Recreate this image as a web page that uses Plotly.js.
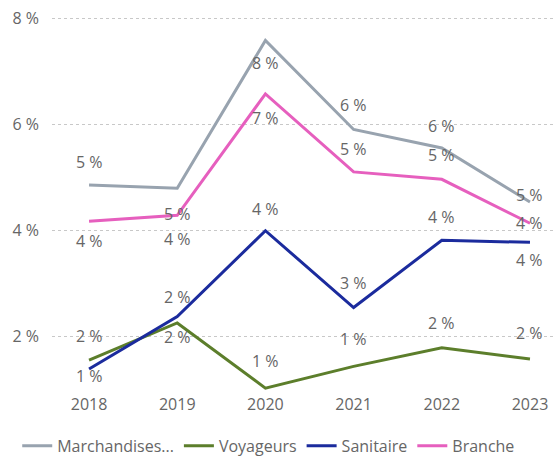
<!DOCTYPE html>
<html>
<head>
<meta charset="utf-8">
<script src="https://cdn.plot.ly/plotly-3.0.1.min.js"></script>
<style>
html,body{margin:0;padding:0;background:#fff;}
#chart{width:558px;height:457px;}
</style>
</head>
<body>
<div id="chart"></div>
<script>
// ---- data ----
var years = [2018, 2019, 2020, 2021, 2022, 2023];
var seriesNames = ["Marchandises...", "Voyageurs", "Sanitaire", "Branche"];
var marchandises = [4.86, 4.80, 7.59, 5.91, 5.56, 4.54];
var voyageurs    = [1.56, 2.26, 1.03, 1.44, 1.79, 1.58];
var sanitaire    = [1.39, 2.38, 4.00, 2.55, 3.82, 3.78];
var branche      = [4.18, 4.29, 6.58, 5.11, 4.97, 4.14];
var yTicks = [2, 4, 6, 8];

// ---- styles ----
var colors = ["#98A3AF", "#5C7E2B", "#1B2B9D", "#E65FBE"];
// vertical label offsets (px, positive = up) per series/point
var labelShift = [
  [23, -26, -23, 24, 22, 7],
  [24, -14, 27, 27, 25, 26],
  [-7, 20, 22, 25, 23, -18],
  [-20, -24, -24, 23, 24, 0]
];
var values = [marchandises, voyageurs, sanitaire, branche];
var textColor = "#666666";
var fontFam = "'Segoe UI', 'Open Sans', 'Noto Sans', sans-serif";

var traces = values.map(function (vals, i) {
  return {
    type: "scatter",
    mode: "lines",
    x: years,
    y: vals,
    name: seriesNames[i],
    line: {color: colors[i], width: 3},
    hoverinfo: "none"
  };
});

var annotations = [];
values.forEach(function (vals, i) {
  vals.forEach(function (v, j) {
    annotations.push({
      x: years[j], y: v, xref: "x", yref: "y",
      text: Math.round(v) + " %",
      showarrow: false,
      yshift: labelShift[i][j],
      font: {family: fontFam, size: 16, color: textColor}
    });
  });
});

var layout = {
  width: 558, height: 457,
  margin: {l: 52, r: 2, t: 10, b: 64, autoexpand: false},
  paper_bgcolor: "#ffffff",
  plot_bgcolor: "#ffffff",
  showlegend: true,
  font: {family: fontFam, size: 16, color: textColor},
  xaxis: {
    type: "linear",
    range: [2017.58, 2023.295],
    tickvals: years,
    ticktext: years.map(String),
    showgrid: false, zeroline: false, showline: false,
    ticks: "",
    tickfont: {family: fontFam, size: 16, color: textColor}
  },
  yaxis: {
    range: [0.938, 8.164],
    tickvals: yTicks,
    ticktext: yTicks.map(function (t) { return t + " %"; }),
    showgrid: true,
    gridcolor: "#C8C8C8",
    griddash: "dot",
    gridwidth: 1,
    zeroline: false, showline: false,
    ticks: "",
    ticklabelstandoff: 12,
    tickfont: {family: fontFam, size: 16, color: textColor}
  },
  legend: {
    orientation: "h",
    x: -0.069, xanchor: "left",
    y: -0.138, yanchor: "middle",
    font: {family: fontFam, size: 16, color: textColor},
    bgcolor: "rgba(0,0,0,0)",
    borderwidth: 0
  },
  annotations: annotations
};

Plotly.newPlot("chart", traces, layout, {displayModeBar: false, staticPlot: true});
</script>
</body>
</html>
